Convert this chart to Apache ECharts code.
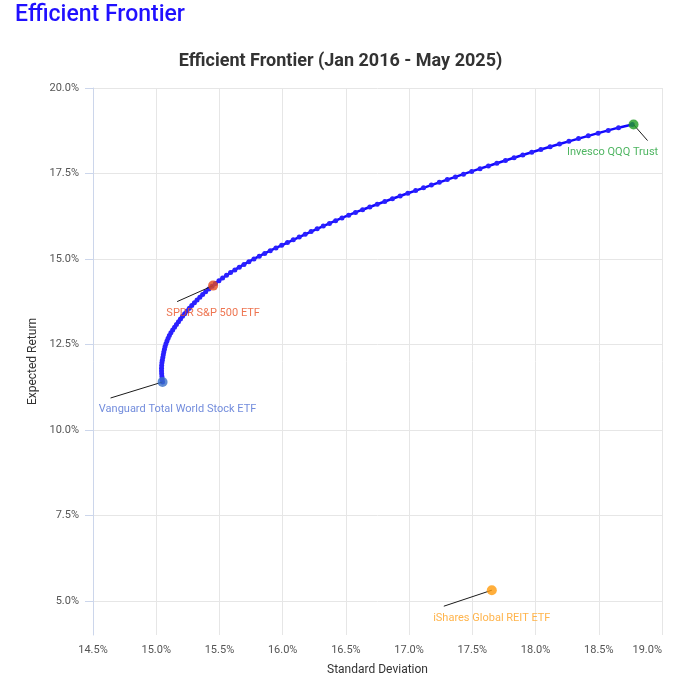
<!DOCTYPE html>
<html>
<head>
<meta charset="utf-8">
<title>Efficient Frontier</title>
<script src="https://cdn.jsdelivr.net/npm/echarts@6/dist/echarts.min.js"></script>
<style>
  html, body { margin: 0; padding: 0; background: #fff; }
  #chart { width: 681px; height: 686px; }
</style>
</head>
<body>
<div id="chart"></div>
<script>
// efficient frontier (percent)
var frontierReturn = [11.40, 11.48, 11.56, 11.64, 11.72, 11.80, 11.88, 11.96, 12.04, 12.12,
  12.20, 12.28, 12.36, 12.44, 12.52, 12.60, 12.68, 12.76, 12.84, 12.92,
  13.00, 13.08, 13.16, 13.24, 13.32, 13.40, 13.48, 13.56, 13.64, 13.72,
  13.80, 13.88, 13.96, 14.04, 14.12, 14.20, 14.28, 14.36, 14.44, 14.52,
  14.60, 14.68, 14.76, 14.84, 14.92, 15.00, 15.08, 15.16, 15.24, 15.32,
  15.40, 15.48, 15.56, 15.64, 15.72, 15.80, 15.88, 15.96, 16.04, 16.12,
  16.20, 16.28, 16.36, 16.44, 16.52, 16.60, 16.68, 16.76, 16.84, 16.92,
  17.00, 17.08, 17.16, 17.24, 17.32, 17.40, 17.48, 17.56, 17.64, 17.72,
  17.80, 17.88, 17.96, 18.04, 18.12, 18.20, 18.28, 18.36, 18.44, 18.52,
  18.60, 18.68, 18.76, 18.84, 18.93];
var frontierStdDev = [15.050, 15.047, 15.045, 15.043, 15.042, 15.042, 15.043, 15.045, 15.048, 15.052,
  15.056, 15.060, 15.065, 15.070, 15.077, 15.085, 15.094, 15.104, 15.116, 15.130,
  15.145, 15.160, 15.176, 15.192, 15.208, 15.225, 15.243, 15.262, 15.281, 15.302,
  15.323, 15.345, 15.367, 15.391, 15.416, 15.442, 15.468, 15.496, 15.525, 15.556,
  15.588, 15.622, 15.657, 15.694, 15.733, 15.773, 15.815, 15.858, 15.902, 15.947,
  15.992, 16.038, 16.084, 16.131, 16.178, 16.225, 16.273, 16.321, 16.370, 16.419,
  16.469, 16.522, 16.576, 16.632, 16.689, 16.748, 16.808, 16.868, 16.929, 16.990,
  17.052, 17.114, 17.176, 17.239, 17.302, 17.366, 17.430, 17.495, 17.561, 17.627,
  17.694, 17.762, 17.830, 17.899, 17.970, 18.042, 18.115, 18.189, 18.264, 18.340,
  18.417, 18.495, 18.575, 18.656, 18.765];

// single assets
var assetNames = ['Vanguard Total World Stock ETF', 'SPDR S&P 500 ETF', 'Invesco QQQ Trust', 'iShares Global REIT ETF'];
var assetStdDev = [15.05, 15.45, 18.775, 17.654];
var assetReturn = [11.40, 14.22, 18.93, 5.31];

var xTicks = [14.5, 15.0, 15.5, 16.0, 16.5, 17.0, 17.5, 18.0, 18.5, 19.0];
var yTicks = [5.0, 7.5, 10.0, 12.5, 15.0, 17.5, 20.0];

// styling per asset
var assetColors = ['#3a6fc8', '#e4481c', '#1e9a22', '#ff9a0a'];
var labelColors = ['#4f6fd3', '#ea5325', '#22a23a', '#ffa11f'];
var labelOffsets = [[15, 27], [0, 28], [-21, 28], [0, 28]];
var leaderOffsets = [[-52, 16], [-36, 16], [14, 16], [-48, 16]];

var FONT = 'Roboto, "Noto Sans", sans-serif';
var pct = function (v) { return v.toFixed(1) + '%'; };

var frontierData = frontierStdDev.map(function (s, i) { return [s, frontierReturn[i]]; });
var assetData = assetNames.map(function (n, i) {
  return {
    name: n,
    value: [assetStdDev[i], assetReturn[i]],
    itemStyle: { color: assetColors[i] },
    label: { color: labelColors[i], offset: labelOffsets[i] }
  };
});

var chart = echarts.init(document.getElementById('chart'), null, { renderer: 'canvas' });

var option = {
  animation: false,
  textStyle: { fontFamily: FONT },
  title: [{
    text: 'Efficient Frontier',
    left: 10,
    top: -1,
    textStyle: { fontFamily: FONT, fontSize: 23, fontWeight: 500, color: '#2010ff' }
  }, {
    text: 'Efficient Frontier (Jan 2016 - May 2025)',
    left: 'center',
    top: 47,
    textStyle: { fontFamily: FONT, fontSize: 18, fontWeight: 'bold', color: '#333' }
  }],
  grid: { left: 93, right: 19, top: 88, bottom: 51, containLabel: false },
  xAxis: {
    type: 'value',
    min: 14.5,
    max: 19.0,
    interval: 0.5,
    name: 'Standard Deviation',
    nameLocation: 'middle',
    nameGap: 29,
    nameTextStyle: { fontFamily: FONT, fontSize: 12, color: '#333' },
    axisLine: { show: false },
    axisTick: { show: false },
    axisLabel: {
      customValues: xTicks,
      formatter: pct,
      fontFamily: FONT, fontSize: 11, color: '#555', margin: 10,
      alignMaxLabel: 'right'
    },
    splitLine: { show: true, lineStyle: { color: '#e6e6e6', width: 1 } }
  },
  yAxis: {
    type: 'value',
    min: 4,
    max: 20,
    name: 'Expected Return',
    nameLocation: 'middle',
    nameGap: 50,
    nameTextStyle: { fontFamily: FONT, fontSize: 12, color: '#333' },
    axisLine: { show: true, lineStyle: { color: '#ccd6eb', width: 1 } },
    axisTick: { show: true, length: 8, customValues: yTicks, lineStyle: { color: '#ccd6eb' } },
    axisLabel: {
      customValues: yTicks,
      formatter: pct,
      fontFamily: FONT, fontSize: 11, color: '#555', margin: 14
    },
    splitLine: { show: true, lineStyle: { color: '#e6e6e6', width: 1 } }
  },
  series: [{
    name: 'Frontier',
    type: 'line',
    data: frontierData,
    symbol: 'circle',
    symbolSize: 5,
    showAllSymbol: true,
    lineStyle: { color: '#1208ff', width: 2.5 },
    itemStyle: { color: '#2a20ff' },
    z: 2
  }, {
    name: 'Leaders',
    type: 'custom',
    data: assetNames.map(function (n, i) { return [assetStdDev[i], assetReturn[i]]; }),
    renderItem: function (params, api) {
      var p = api.coord([api.value(0), api.value(1)]);
      var off = leaderOffsets[params.dataIndex];
      return {
        type: 'line',
        shape: { x1: p[0], y1: p[1], x2: p[0] + off[0], y2: p[1] + off[1] },
        style: { stroke: '#1a1a1a', lineWidth: 1 }
      };
    },
    z: 3
  }, {
    name: 'Assets',
    type: 'scatter',
    data: assetData,
    symbolSize: 10,
    label: {
      show: true,
      position: 'inside',
      formatter: '{b}',
      fontFamily: FONT,
      fontSize: 11
    },
    z: 4
  }]
};

chart.setOption(option);
</script>
</body>
</html>
